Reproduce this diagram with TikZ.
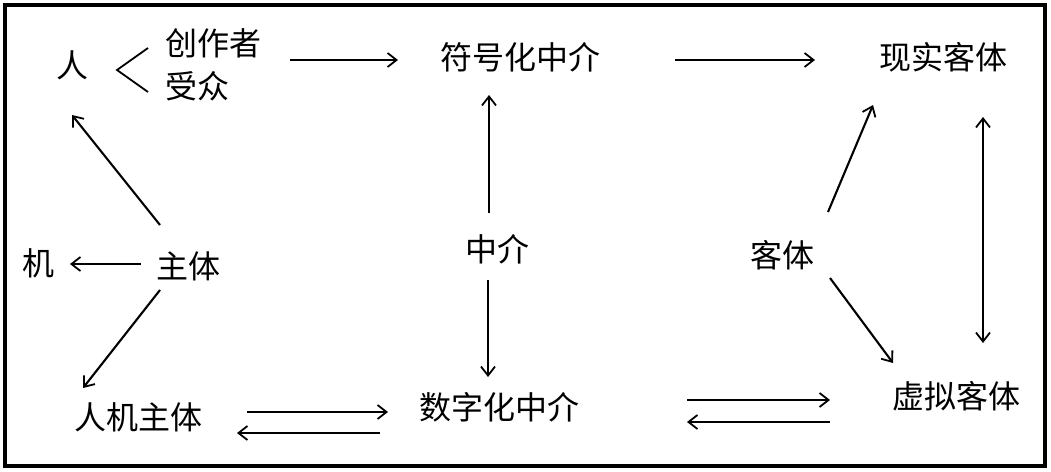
\documentclass[tikz,border=0pt]{standalone}
\usepackage{fontspec}
\setmainfont{Noto Sans CJK SC}
\usetikzlibrary{arrows.meta}
\begin{document}
\begin{tikzpicture}[x=1pt,y=-1pt,
  lbl/.style={inner sep=0pt,font=\fontsize{32}{43}\selectfont},
  arr/.style={line width=2.1pt,-{Straight Barb[length=9pt,width=14pt,line width=1.8pt]}},
  darr/.style={line width=2.1pt,{Straight Barb[length=9pt,width=14pt,line width=1.8pt]}-{Straight Barb[length=9pt,width=14pt,line width=1.8pt]}}]
\useasboundingbox (0,0) rectangle (1051,471);
\fill[white] (0,0) rectangle (1051,471);
\draw[line width=4pt] (5,5) rectangle (1045,466);
% nodes
\node[lbl] (ren) at (72,65) {人};
\node[lbl,anchor=west,align=left] (cz) at (165,65) {创作者\\受众};
\node[lbl] (fh) at (520,57) {符号化中介};
\node[lbl] (xs) at (943,57) {现实客体};
\node[lbl] (ji) at (38,263) {机};
\node[lbl] (zt) at (188,266) {主体};
\node[lbl] (zj) at (497,249) {中介};
\node[lbl] (kt) at (782,255) {客体};
\node[lbl] (rj) at (138,417) {人机主体};
\node[lbl] (sz) at (499,407) {数字化中介};
\node[lbl] (xn) at (956,396) {虚拟客体};
% the "<" between 人 and 创作者/受众
\draw[line width=1.8pt] ([shift={(76,-17)}]ren.center) -- ([shift={(45,5)}]ren.center) -- ([shift={(76,27)}]ren.center);
% connectors
\draw[arr] ([shift={(125,-5)}]cz.west) -- ([shift={(-122,3)}]fh.center);
\draw[arr] ([shift={(155,3)}]fh.center) -- ([shift={(-128,3)}]xs.center);
\draw[arr] ([shift={(-8,-36)}]zj.center) -- ([shift={(-31,38)}]fh.center);
\draw[arr] ([shift={(-9,31)}]zj.center) -- ([shift={(-11,-30)}]sz.center);
\draw[arr] ([shift={(-28,-41)}]zt.center) -- ([shift={(0,50)}]ren.center);
\draw[arr] ([shift={(-47,-2)}]zt.center) -- ([shift={(32,1)}]ji.center);
\draw[arr] ([shift={(-28,24)}]zt.center) -- ([shift={(-55,-29)}]rj.center);
\draw[arr] ([shift={(109,-5)}]rj.center) -- ([shift={(-111,5)}]sz.center);
\draw[arr] ([shift={(-119,26)}]sz.center) -- ([shift={(99,16)}]rj.center);
\draw[arr] ([shift={(46,-43)}]kt.center) -- ([shift={(-70,48)}]xs.center);
\draw[arr] ([shift={(48,23)}]kt.center) -- ([shift={(-63,-33)}]xn.center);
\draw[darr] ([shift={(40,60)}]xs.center) -- ([shift={(27,-53)}]xn.center);
\draw[arr] ([shift={(188,-7)}]sz.center) -- ([shift={(-126,4)}]xn.center);
\draw[arr] ([shift={(-126,26)}]xn.center) -- ([shift={(188,15)}]sz.center);
\end{tikzpicture}
\end{document}
